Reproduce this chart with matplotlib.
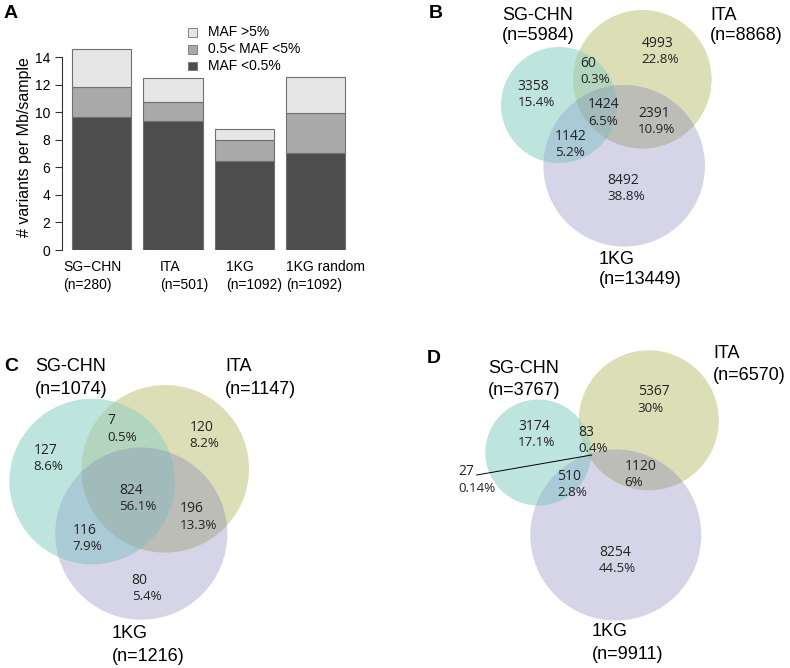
import numpy as np
import matplotlib
matplotlib.use("Agg")
import matplotlib.pyplot as plt
from matplotlib.patches import Circle, Polygon, Rectangle
import matplotlib.transforms as mtransforms

# ---------------- data ----------------
bar_groups = ["SG\u2212CHN", "ITA", "1KG", "1KG random"]
bar_n = ["(n=280)", "(n=501)", "(n=1092)", "(n=1092)"]
maf_low = [9.64, 9.37, 6.47, 7.05]      # MAF <0.5%
maf_mid = [2.18, 1.41, 1.50, 2.93]      # 0.5< MAF <5%
maf_high = [2.76, 1.69, 0.80, 2.62]     # MAF >5%
legend_labels = ["MAF >5%", "0.5< MAF <5%", "MAF <0.5%"]
y_ticks = [0, 2, 4, 6, 8, 10, 12, 14]

set_names = ["SG-CHN", "ITA", "1KG"]
# region order: S, I, K, SI, SK, IK, SIK
venn_B_counts = [3358, 4993, 8492, 60, 1142, 2391, 1424]
venn_B_pcts = ["15.4%", "22.8%", "38.8%", "0.3%", "5.2%", "10.9%", "6.5%"]
venn_B_sizes = [5984, 8868, 13449]
venn_C_counts = [127, 120, 80, 7, 116, 196, 824]
venn_C_pcts = ["8.6%", "8.2%", "5.4%", "0.5%", "7.9%", "13.3%", "56.1%"]
venn_C_sizes = [1074, 1147, 1216]
venn_D_counts = [3174, 5367, 8254, 83, 510, 1120, 27]
venn_D_pcts = ["17.1%", "30%", "44.5%", "0.4%", "2.8%", "6%", "0.14%"]
venn_D_sizes = [3767, 6570, 9911]

# ---------------- style / layout ----------------
W, H = 790, 668
bar_colors = ["#4d4d4d", "#a9a9a9", "#e6e6e6"]
bar_edge = "#707070"
region_colors = ["#bee5dd", "#dcdfb6", "#d6d5e8",
                 "#b4d5bd", "#aacbd5", "#bdbdb8", "#a0bbb9"]

fig = plt.figure(figsize=(W / 100, H / 100), dpi=100)
ov = fig.add_axes([0, 0, 1, 1])
ov.set_xlim(0, W)
ov.set_ylim(H, 0)
ov.axis("off")

LAB = "Liberation Sans"
NUM = "Open Sans"

# ---------------- panel A: stacked bars ----------------
ax_l, ax_r, ax_t, ax_b = 62, 350, 40, 250
ax = fig.add_axes([ax_l / W, 1 - ax_b / H, (ax_r - ax_l) / W, (ax_b - ax_t) / H])
ax.patch.set_visible(False)
px_per_unit_x = 59.5
x0 = 0.2 + (ax_l - 71.7) / px_per_unit_x
x1 = 0.2 + (ax_r - 71.7) / px_per_unit_x
ax.set_xlim(x0, x1)
ax.set_ylim(0, (ax_b - ax_t) / 13.76)

lefts = [0.2 + 1.2 * i for i in range(len(bar_groups))]
low = np.array(maf_low)
mid = np.array(maf_mid)
high = np.array(maf_high)
ax.bar(lefts, low, width=1.0, align="edge", color=bar_colors[0],
       edgecolor=bar_edge, linewidth=0.8)
ax.bar(lefts, mid, bottom=low, width=1.0, align="edge", color=bar_colors[1],
       edgecolor=bar_edge, linewidth=0.8)
ax.bar(lefts, high, bottom=low + mid, width=1.0, align="edge", color=bar_colors[2],
       edgecolor=bar_edge, linewidth=0.8)

for s in ["top", "right", "bottom"]:
    ax.spines[s].set_visible(False)
ax.spines["left"].set_bounds(0, 14)
ax.spines["left"].set_color("#333333")
ax.spines["left"].set_linewidth(0.8)
ax.set_xticks([])
ax.set_yticks(y_ticks)
ax.set_yticklabels([str(t) for t in y_ticks], fontsize=10, family=LAB)
ax.tick_params(axis="y", length=4.8, width=0.8, color="#333333", pad=3.6)
ax.set_ylabel("# variants per Mb/sample", fontsize=11.5, family=LAB)
ax.yaxis.set_label_coords(-0.105, 0.49)

label_offsets = [-0.141, 0.284, 0.195, 0.0]
trans = mtransforms.blended_transform_factory(ax.transData, ov.transData)
for i, (g, n) in enumerate(zip(bar_groups, bar_n)):
    xx = lefts[i] + label_offsets[i]
    ov.text(xx, 266.7, g, transform=trans, ha="left", va="center",
            fontsize=10, family=LAB)
    ov.text(xx, 285, n, transform=trans, ha="left", va="center",
            fontsize=10, family=LAB)

# legend (manual, R style)
leg_y = [32.3, 49.3, 65.7]
leg_cols = [bar_colors[2], bar_colors[1], bar_colors[0]]
for yy, c, lab in zip(leg_y, leg_cols, legend_labels):
    ov.add_patch(Rectangle((188.3, yy - 4.2), 8.4, 8.4, facecolor=c,
                           edgecolor=bar_edge, linewidth=0.6))
    ov.text(208.3, yy, lab, ha="left", va="center", fontsize=10, family=LAB)

# ---------------- Venn panels ----------------
def lens(c1, c2, n=4000):
    pts = []
    for (cx, cy, r), (ox, oy, orr) in [(c1, c2), (c2, c1)]:
        t = np.linspace(0, 2 * np.pi, n, endpoint=False)
        x = cx + r * np.cos(t)
        y = cy + r * np.sin(t)
        m = (x - ox) ** 2 + (y - oy) ** 2 <= orr ** 2
        pts.append(np.c_[x[m], y[m]])
    P = np.vstack(pts)
    c = P.mean(axis=0)
    order = np.argsort(np.arctan2(P[:, 1] - c[1], P[:, 0] - c[0]))
    return P[order]


def circ(c, **kw):
    return Circle((c[0], c[1]), c[2], transform=ov.transData, **kw)


def draw_venn(circles):
    S, I, K = circles
    for c, col in zip(circles, region_colors[:3]):
        ov.add_patch(circ(c, facecolor=col, edgecolor="none"))
    for (a, b), col in zip([(S, I), (S, K), (I, K)], region_colors[3:6]):
        p = circ(b, facecolor=col, edgecolor="none")
        ov.add_patch(p)
        p.set_clip_path(circ(a))
    P = lens(S, I)
    if len(P) > 2:
        poly = Polygon(P, closed=True, facecolor=region_colors[6], edgecolor="none",
                       transform=ov.transData)
        ov.add_patch(poly)
        poly.set_clip_path(circ(K))


def venn_texts(counts, pcts, pos, gap=16.3):
    for cnt, pc, (x, y) in zip(counts, pcts, pos):
        ov.text(x, y, str(cnt), ha="left", va="center", fontsize=10,
                family=NUM, color="#222222")
        ov.text(x, y + gap, pc, ha="left", va="center", fontsize=9.6,
                family=NUM, color="#222222")


def venn_labels(sizes, pos, spacing):
    for nm, sz, (x, y) in zip(set_names, sizes, pos):
        ov.text(x, y, nm, ha="left", va="center", fontsize=13, family=LAB)
        ov.text(x, y + spacing, "(n=%d)" % sz, ha="left", va="center",
                fontsize=13, family=LAB)


# Panel B
circles_B = [(559, 105, 58), (642.3, 79.3, 69.3), (624.2, 165.8, 80.8)]
draw_venn(circles_B)
pos_B = [(517.7, 86), (641.7, 43.3), (607, 180), (580, 63.3),
         (555, 136.7), (638.3, 113.3), (588, 105)]
venn_texts(venn_B_counts, venn_B_pcts, pos_B)
venn_labels(venn_B_sizes, [(502.3, 15), (710, 15), (599, 260)], 20)

# Panel C
circles_C = [(92.2, 481.5, 82.8), (165.2, 468.8, 83.8), (141.3, 533.7, 86)]
draw_venn(circles_C)
pos_C = [(33.3, 450.7), (189.3, 427.3), (131.7, 580), (107.3, 421),
         (72.7, 530), (180, 509), (119.3, 490)]
venn_texts(venn_C_counts, venn_C_pcts, pos_C)
venn_labels(venn_C_sizes, [(35, 366.7), (225, 366.7), (111.7, 633.3)], 23)

# Panel D
circles_D = [(538.3, 452.5, 53), (648.8, 420.3, 70), (615.8, 535, 85.5)]
draw_venn(circles_D)
pos_D = [(518.3, 426.7), (637.7, 391.7), (599, 552.3), (578.3, 432.3),
         (557.3, 476), (624.3, 466.7), (458.3, 471.7)]
venn_texts(venn_D_counts, venn_D_pcts, pos_D)
venn_labels(venn_D_sizes, [(488.3, 368.3), (713.3, 353.3), (591.7, 631.7)], 22.5)
ov.plot([476.7, 591.7], [475, 455], color="black", linewidth=0.7)

# panel letters
for letter, (x, y) in zip("ABCD", [(3.3, 13.3), (428.3, 13.3), (4, 366.7), (426.7, 358.3)]):
    ov.text(x, y, letter, ha="left", va="center", fontsize=14,
            fontweight="bold", family=LAB)

fig.savefig("out.png", dpi=100)
